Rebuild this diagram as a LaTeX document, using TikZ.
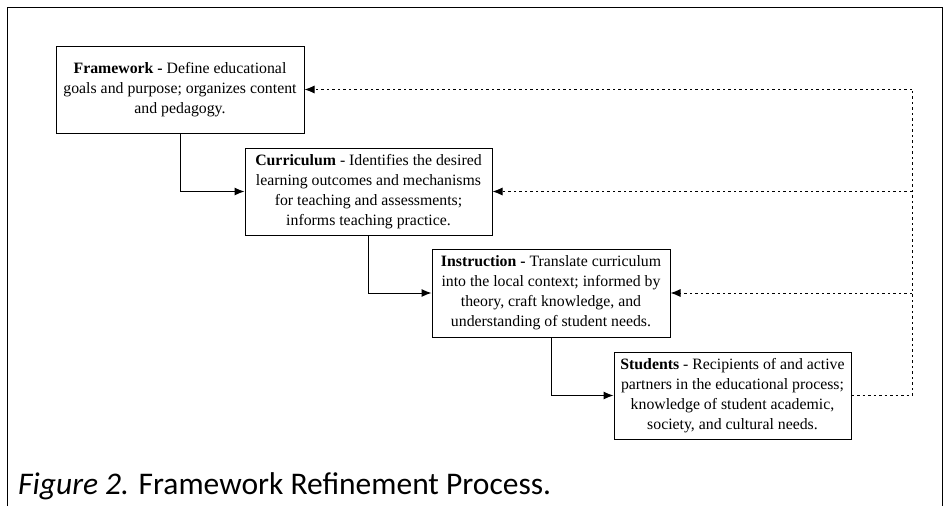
\documentclass[tikz,border=0pt]{standalone}
\usepackage{fontspec}
\setmainfont{Liberation Serif}
\newfontfamily\capfont{Carlito}
\usetikzlibrary{arrows.meta}

\begin{document}
\begin{tikzpicture}[x=1pt,y=1pt,>={Latex[length=10pt,width=8pt]},
    stage/.style={draw,line width=1pt,align=center,inner sep=0pt,
        font=\fontsize{15.8}{20}\selectfont},
    flow/.style={line width=1pt,->},
    fback/.style={line width=1pt,dash pattern=on 2.5pt off 3pt}]
    \useasboundingbox (0,0) rectangle (945,-506);
    % outer frame
    \draw[line width=1pt] (7,-506) -- (7,-7) -- (942,-7) -- (942,-506);

    % the four stages
    \node[stage,minimum width=248,minimum height=87] (frame) at (180,-89.5)
        {\textbf{Framework -} Define educational\\goals and purpose; organizes content\\and pedagogy.};
    \node[stage,minimum width=247,minimum height=87] (curric) at (368.5,-191.5)
        {\textbf{Curriculum} - Identifies the desired\\learning outcomes and mechanisms\\for teaching and assessments;\\informs teaching practice.};
    \node[stage,minimum width=238,minimum height=88] (instr) at (551,-293)
        {\textbf{Instruction -} Translate curriculum\\into the local context; informed by\\theory, craft knowledge, and\\understanding of student needs.};
    \node[stage,minimum width=237,minimum height=87] (stud) at (732.5,-395.5)
        {\textbf{Students} - Recipients of and active\\partners in the educational process;\\knowledge of student academic,\\society, and cultural needs.};

    % downward flow
    \draw[flow] (frame.south) |- (curric.west);
    \draw[flow] (curric.south) |- (instr.west);
    \draw[flow] (instr.south) |- (stud.west);

    % feedback from the students
    \coordinate (rail) at (912,0);
    \draw[fback] (stud.east) -- (stud.east -| rail) -- (frame.east -| rail);
    \draw[fback,->] (frame.east -| rail) -- (frame.east);
    \draw[fback,->] (curric.east -| rail) -- (curric.east);
    \draw[fback,->] (instr.east -| rail) -- (instr.east);

    % caption
    \node[anchor=base west,inner sep=0pt,font=\capfont\fontsize{31.5}{36}\selectfont] (cap) at (18,-494)
        {\textit{Figure 2.} Framework Refinement Process.};
\end{tikzpicture}
\end{document}
